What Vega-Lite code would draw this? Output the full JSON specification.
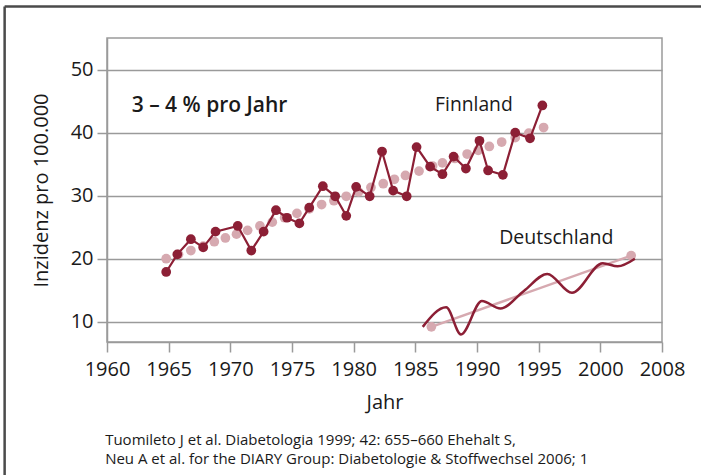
{
  "$schema": "https://vega.github.io/schema/vega-lite/v6.json",
  "width": 555,
  "height": 304,
  "autosize": {"type": "none"},
  "padding": {"left": 107, "top": 38, "right": 39, "bottom": 133},
  "background": "white",
  "config": {
    "font": "Open Sans",
    "view": {"stroke": "#9a9a9a", "strokeWidth": 1.5},
    "axisX": {
      "grid": false,
      "tickSize": 10, "tickColor": "#9a9a9a", "tickWidth": 1.5,
      "domainColor": "#9a9a9a", "domainWidth": 1.5,
      "labelFontSize": 20, "labelColor": "#1a1a1a", "labelPadding": 7,
      "labelFont": "Open Sans", "labelFlush": false, "labelOverlap": false,
      "titleFontSize": 20, "titleFontWeight": "normal", "titleColor": "#1a1a1a",
      "titlePadding": 13, "titleFont": "Open Sans"
    },
    "axisY": {
      "grid": true, "gridColor": "#9a9a9a", "gridWidth": 1.5,
      "tickSize": 10, "tickColor": "#9a9a9a", "tickWidth": 1.5,
      "domainColor": "#9a9a9a", "domainWidth": 1.5,
      "labelFontSize": 20, "labelColor": "#1a1a1a", "labelPadding": 4,
      "labelFont": "Open Sans", "labelFlush": false, "labelOverlap": false,
      "titleFontSize": 20, "titleFontWeight": "normal", "titleColor": "#1a1a1a",
      "titlePadding": 19, "titleFont": "Open Sans"
    }
  },
  "datasets": {
    "finnland": [
      {"jahr": 1964.8, "wert": 17.9}, {"jahr": 1965.7, "wert": 20.7}, {"jahr": 1966.8, "wert": 23.1},
      {"jahr": 1967.8, "wert": 21.8}, {"jahr": 1968.8, "wert": 24.3}, {"jahr": 1970.6, "wert": 25.2},
      {"jahr": 1971.7, "wert": 21.3}, {"jahr": 1972.7, "wert": 24.3}, {"jahr": 1973.7, "wert": 27.7},
      {"jahr": 1974.6, "wert": 26.5}, {"jahr": 1975.6, "wert": 25.6}, {"jahr": 1976.4, "wert": 28.1},
      {"jahr": 1977.5, "wert": 31.5}, {"jahr": 1978.5, "wert": 29.9}, {"jahr": 1979.4, "wert": 26.8},
      {"jahr": 1980.2, "wert": 31.4}, {"jahr": 1981.3, "wert": 29.9}, {"jahr": 1982.3, "wert": 37.0},
      {"jahr": 1983.2, "wert": 30.8}, {"jahr": 1984.3, "wert": 29.9}, {"jahr": 1985.1, "wert": 37.7},
      {"jahr": 1986.2, "wert": 34.6}, {"jahr": 1987.2, "wert": 33.4}, {"jahr": 1988.1, "wert": 36.2},
      {"jahr": 1989.1, "wert": 34.3}, {"jahr": 1990.2, "wert": 38.7}, {"jahr": 1990.9, "wert": 34.0},
      {"jahr": 1992.1, "wert": 33.3}, {"jahr": 1993.1, "wert": 40.0}, {"jahr": 1994.3, "wert": 39.1},
      {"jahr": 1995.3, "wert": 44.3}
    ],
    "trendFI": [
      {"jahr": 1964.8, "wert": 20.0}, {"jahr": 1965.8, "wert": 20.7}, {"jahr": 1966.8, "wert": 21.3},
      {"jahr": 1967.8, "wert": 22.0}, {"jahr": 1968.7, "wert": 22.7}, {"jahr": 1969.6, "wert": 23.3},
      {"jahr": 1970.5, "wert": 23.9}, {"jahr": 1971.4, "wert": 24.5}, {"jahr": 1972.4, "wert": 25.2},
      {"jahr": 1973.4, "wert": 25.8}, {"jahr": 1974.4, "wert": 26.5}, {"jahr": 1975.4, "wert": 27.2},
      {"jahr": 1976.4, "wert": 27.9}, {"jahr": 1977.4, "wert": 28.6}, {"jahr": 1978.4, "wert": 29.2},
      {"jahr": 1979.4, "wert": 29.9}, {"jahr": 1980.4, "wert": 30.6}, {"jahr": 1981.4, "wert": 31.3},
      {"jahr": 1982.4, "wert": 31.9}, {"jahr": 1983.3, "wert": 32.6}, {"jahr": 1984.2, "wert": 33.2},
      {"jahr": 1985.3, "wert": 33.9}, {"jahr": 1986.4, "wert": 34.7}, {"jahr": 1987.2, "wert": 35.2},
      {"jahr": 1988.2, "wert": 35.9}, {"jahr": 1989.2, "wert": 36.6}, {"jahr": 1990.1, "wert": 37.2},
      {"jahr": 1991.0, "wert": 37.8}, {"jahr": 1992.0, "wert": 38.5}, {"jahr": 1993.1, "wert": 39.2},
      {"jahr": 1994.2, "wert": 39.9}, {"jahr": 1995.4, "wert": 40.8}
    ],
    "deutschland": [
      {"jahr": 1985.6, "wert": 9.2}, {"jahr": 1987.5, "wert": 12.3}, {"jahr": 1988.7, "wert": 8.0},
      {"jahr": 1990.4, "wert": 13.3}, {"jahr": 1991.9, "wert": 12.1}, {"jahr": 1993.8, "wert": 14.9},
      {"jahr": 1995.7, "wert": 17.6}, {"jahr": 1997.7, "wert": 14.6}, {"jahr": 2000.2, "wert": 19.3},
      {"jahr": 2001.4, "wert": 18.8}, {"jahr": 2002.8, "wert": 20.0}
    ],
    "trendDE": [
      {"jahr": 1986.3, "wert": 9.2}, {"jahr": 2002.5, "wert": 20.5}
    ],
    "one": [{}]
  },
  "layer": [
    {
      "data": {"name": "trendFI"},
      "mark": {"type": "circle", "size": 95, "opacity": 1, "color": "#d6a9b0"},
      "encoding": {
        "x": {"field": "jahr", "type": "quantitative", "title": "Jahr", "scale": {"domain": [1960, 2005], "nice": false, "zero": false},
              "axis": {"values": [1960, 1965, 1970, 1975, 1980, 1985, 1990, 1995, 2000, 2005], "format": "d", "labelExpr": "datum.value == 2005 ? '2008' : datum.label"}},
        "y": {"field": "wert", "type": "quantitative", "title": "Inzidenz pro 100.000", "scale": {"domain": [6.8, 55], "nice": false, "zero": false},
              "axis": {"values": [10, 20, 30, 40, 50]}}
      }
    },
    {
      "data": {"name": "trendDE"},
      "mark": {"type": "line", "color": "#d6a9b0", "strokeWidth": 2.5},
      "encoding": {
        "x": {"field": "jahr", "type": "quantitative", "title": "Jahr", "scale": {"domain": [1960, 2005], "nice": false, "zero": false}},
        "y": {"field": "wert", "type": "quantitative", "title": "Inzidenz pro 100.000", "scale": {"domain": [6.8, 55], "nice": false, "zero": false}}
      }
    },
    {
      "data": {"name": "trendDE"},
      "mark": {"type": "circle", "size": 95, "opacity": 1, "color": "#d6a9b0"},
      "encoding": {
        "x": {"field": "jahr", "type": "quantitative", "title": "Jahr", "scale": {"domain": [1960, 2005], "nice": false, "zero": false}},
        "y": {"field": "wert", "type": "quantitative", "title": "Inzidenz pro 100.000", "scale": {"domain": [6.8, 55], "nice": false, "zero": false}}
      }
    },
    {
      "data": {"name": "finnland"},
      "mark": {"type": "line", "color": "#8c1f35", "strokeWidth": 2.2},
      "encoding": {
        "x": {"field": "jahr", "type": "quantitative", "title": "Jahr", "scale": {"domain": [1960, 2005], "nice": false, "zero": false}},
        "y": {"field": "wert", "type": "quantitative", "title": "Inzidenz pro 100.000", "scale": {"domain": [6.8, 55], "nice": false, "zero": false}}
      }
    },
    {
      "data": {"name": "finnland"},
      "mark": {"type": "circle", "size": 95, "opacity": 1, "color": "#8c1f35"},
      "encoding": {
        "x": {"field": "jahr", "type": "quantitative", "title": "Jahr", "scale": {"domain": [1960, 2005], "nice": false, "zero": false}},
        "y": {"field": "wert", "type": "quantitative", "title": "Inzidenz pro 100.000", "scale": {"domain": [6.8, 55], "nice": false, "zero": false}}
      }
    },
    {
      "data": {"name": "deutschland"},
      "mark": {"type": "line", "color": "#8c1f35", "strokeWidth": 2.5, "interpolate": "monotone"},
      "encoding": {
        "x": {"field": "jahr", "type": "quantitative", "title": "Jahr", "scale": {"domain": [1960, 2005], "nice": false, "zero": false}},
        "y": {"field": "wert", "type": "quantitative", "title": "Inzidenz pro 100.000", "scale": {"domain": [6.8, 55], "nice": false, "zero": false}}
      }
    },
    {
      "data": {"name": "one"},
      "mark": {"type": "text", "align": "left", "baseline": "alphabetic", "fontSize": 21, "fontWeight": 600, "color": "#1a1a1a", "font": "Open Sans"},
      "encoding": {
        "x": {"datum": 1962.0, "type": "quantitative", "title": "Jahr", "scale": {"domain": [1960, 2005], "nice": false, "zero": false}},
        "y": {"datum": 43.3, "type": "quantitative", "title": "Inzidenz pro 100.000", "scale": {"domain": [6.8, 55], "nice": false, "zero": false}},
        "text": {"value": "3 – 4 % pro Jahr"}
      }
    },
    {
      "data": {"name": "one"},
      "mark": {"type": "text", "align": "left", "baseline": "alphabetic", "fontSize": 19.3, "color": "#1a1a1a", "font": "Open Sans"},
      "encoding": {
        "x": {"datum": 1986.6, "type": "quantitative", "title": "Jahr", "scale": {"domain": [1960, 2005], "nice": false, "zero": false}},
        "y": {"datum": 43.4, "type": "quantitative", "title": "Inzidenz pro 100.000", "scale": {"domain": [6.8, 55], "nice": false, "zero": false}},
        "text": {"value": "Finnland"}
      }
    },
    {
      "data": {"name": "one"},
      "mark": {"type": "text", "align": "left", "baseline": "alphabetic", "fontSize": 19.5, "color": "#1a1a1a", "font": "Open Sans"},
      "encoding": {
        "x": {"datum": 1991.8, "type": "quantitative", "title": "Jahr", "scale": {"domain": [1960, 2005], "nice": false, "zero": false}},
        "y": {"datum": 22.4, "type": "quantitative", "title": "Inzidenz pro 100.000", "scale": {"domain": [6.8, 55], "nice": false, "zero": false}},
        "text": {"value": "Deutschland"}
      }
    },
    {
      "data": {"name": "one"},
      "mark": {"type": "text", "align": "left", "baseline": "alphabetic", "fontSize": 15, "color": "#1a1a1a", "font": "Open Sans"},
      "encoding": {
        "x": {"datum": 1959.85, "type": "quantitative", "title": "Jahr", "scale": {"domain": [1960, 2005], "nice": false, "zero": false}},
        "y": {"datum": -9.55, "type": "quantitative", "title": "Inzidenz pro 100.000", "scale": {"domain": [6.8, 55], "nice": false, "zero": false}},
        "text": {"value": "Tuomileto J et al. Diabetologia 1999; 42: 655–660 Ehehalt S,"}
      }
    },
    {
      "data": {"name": "one"},
      "mark": {"type": "text", "align": "left", "baseline": "alphabetic", "fontSize": 15, "color": "#1a1a1a", "font": "Open Sans"},
      "encoding": {
        "x": {"datum": 1959.85, "type": "quantitative", "title": "Jahr", "scale": {"domain": [1960, 2005], "nice": false, "zero": false}},
        "y": {"datum": -12.6, "type": "quantitative", "title": "Inzidenz pro 100.000", "scale": {"domain": [6.8, 55], "nice": false, "zero": false}},
        "text": {"value": "Neu A et al. for the DIARY Group: Diabetologie & Stoffwechsel 2006; 1"}
      }
    },
    {
      "data": {"name": "one"},
      "mark": {"type": "rule", "color": "#4a4a4a", "strokeWidth": 2.5},
      "encoding": {
        "x": {"datum": 1951.7, "type": "quantitative", "title": "Jahr", "scale": {"domain": [1960, 2005], "nice": false, "zero": false}},
        "x2": {"datum": 2010},
        "y": {"datum": 60.0, "type": "quantitative", "title": "Inzidenz pro 100.000", "scale": {"domain": [6.8, 55], "nice": false, "zero": false}}
      }
    },
    {
      "data": {"name": "one"},
      "mark": {"type": "rule", "color": "#4a4a4a", "strokeWidth": 2.5},
      "encoding": {
        "x": {"datum": 1951.7, "type": "quantitative", "title": "Jahr", "scale": {"domain": [1960, 2005], "nice": false, "zero": false}},
        "y": {"datum": 60.0, "type": "quantitative", "title": "Inzidenz pro 100.000", "scale": {"domain": [6.8, 55], "nice": false, "zero": false}},
        "y2": {"datum": -16}
      }
    }
  ]
}
